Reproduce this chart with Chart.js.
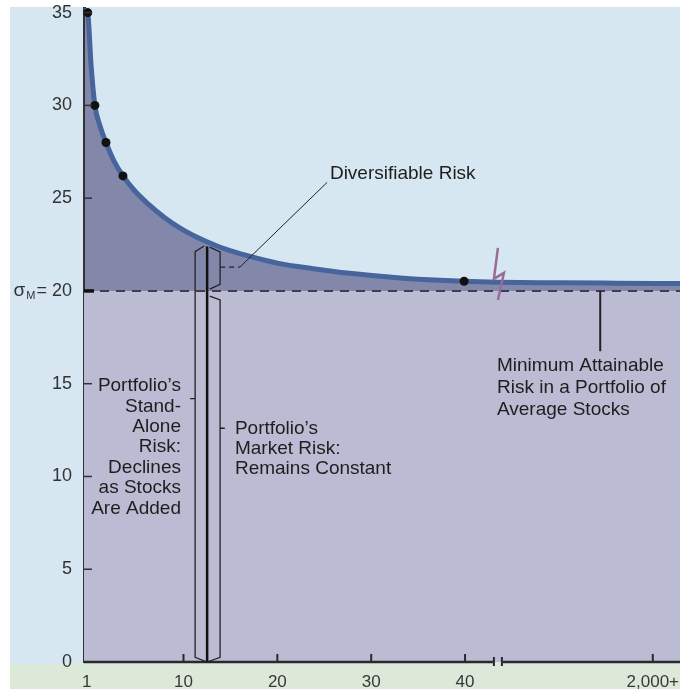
<!DOCTYPE html>
<html>
<head>
<meta charset="utf-8">
<script src="https://cdn.jsdelivr.net/npm/chart.js@4.4.1/dist/chart.umd.min.js"></script>
<style>
  html, body { margin: 0; padding: 0; background: #fff; }
  canvas { display: block; }
</style>
</head>
<body>
<canvas id="riskChart" width="680" height="689"></canvas>
<script>
// x values are positions on the broken stock-count axis (1..40, then 2,000+)
const curveX = [-0.5, -0.2, 0.15, 0.56, 1.1, 1.74, 2.6, 3.55, 4.8, 6.1, 8.0, 9.6, 11.0, 12.5, 14.5, 16.8, 20.0, 23.8, 27.7, 33.1, 39.9, 43.5, 50, 56, 62.9];
const curveY = [35.3, 35.0, 32.2, 30.0, 28.9, 28.0, 27.0, 26.2, 25.4, 24.75, 23.95, 23.4, 23.0, 22.65, 22.25, 21.9, 21.5, 21.2, 20.95, 20.7, 20.52, 20.47, 20.44, 20.42, 20.4];

// sample portfolios marked on the curve
const dotX = [-0.2, 0.56, 1.74, 3.55, 39.9];
const dotY = [35.0, 30.0, 28.0, 26.2, 20.52];

// market risk floor (sigma_M)
const marketRisk = 20;

const xTickPos = [-0.3, 10, 20, 30, 40, 60];
const xTickLabels = ['1', '10', '20', '30', '40', '2,000+'];
const yTickValues = [0, 5, 10, 15, 20, 25, 30, 35];
const axisBreak = 43.5;

const X_MIN = -0.6, X_MAX = 62.9;
const FONT = '"Liberation Sans", Arial, Helvetica, sans-serif';

Chart.defaults.font.family = FONT;

// Background: white margin, light blue panel, pale green strip under the axis
const backdrop = {
  id: 'backdrop',
  beforeDraw(chart) {
    const ctx = chart.ctx;
    ctx.save();
    ctx.fillStyle = '#ffffff';
    ctx.fillRect(0, 0, chart.width, chart.height);
    ctx.fillStyle = '#d6e7f1';
    ctx.fillRect(10, 7, chart.width - 10, chart.height - 7);
    ctx.fillStyle = '#dde9d8';
    ctx.fillRect(10, chart.chartArea.bottom + 2, chart.width - 10, chart.height);
    ctx.restore();
  }
};

// Axis ticks, axis break and all the annotation brackets/labels
const annotations = {
  id: 'annotations',
  afterDatasetsDraw(chart) {
    const ctx = chart.ctx;
    const xs = chart.scales.x, ys = chart.scales.y;
    const px = (v) => xs.getPixelForValue(v);
    const py = (v) => ys.getPixelForValue(v);
    const area = chart.chartArea;
    ctx.save();

    // inward y ticks
    ctx.strokeStyle = '#333';
    ctx.lineWidth = 1.5;
    yTickValues.forEach((v) => {
      if (v === 0 || v === marketRisk) return;
      ctx.beginPath();
      ctx.moveTo(area.left, py(v));
      ctx.lineTo(area.left + 8, py(v));
      ctx.stroke();
    });
    ctx.strokeStyle = '#111';
    ctx.lineWidth = 3.5;
    ctx.beginPath();
    ctx.moveTo(area.left, py(marketRisk));
    ctx.lineTo(area.left + 10, py(marketRisk));
    ctx.stroke();

    // x axis line with a break
    const bx = px(axisBreak);
    ctx.strokeStyle = '#2a2a2a';
    ctx.lineWidth = 2.5;
    ctx.beginPath();
    ctx.moveTo(area.left, area.bottom);
    ctx.lineTo(bx - 5, area.bottom);
    ctx.moveTo(bx + 5, area.bottom);
    ctx.lineTo(area.right, area.bottom);
    ctx.stroke();
    ctx.lineWidth = 2;
    ctx.beginPath();
    ctx.moveTo(bx - 4, area.bottom - 5);
    ctx.lineTo(bx - 4, area.bottom + 4);
    ctx.moveTo(bx + 4, area.bottom - 5);
    ctx.lineTo(bx + 4, area.bottom + 4);
    ctx.stroke();

    // inward x ticks
    ctx.lineWidth = 2;
    xTickPos.slice(1).forEach((v) => {
      ctx.beginPath();
      ctx.moveTo(px(v), area.bottom);
      ctx.lineTo(px(v), area.bottom - 8);
      ctx.stroke();
    });

    // break zigzag across the curve
    const y20 = py(marketRisk);
    ctx.strokeStyle = '#9a6b98';
    ctx.lineWidth = 2.5;
    ctx.beginPath();
    ctx.moveTo(bx, y20 - 43);
    ctx.lineTo(bx - 4, y20 - 12);
    ctx.lineTo(bx + 6, y20 - 18);
    ctx.lineTo(bx, y20 + 9);
    ctx.stroke();

    // sigma_M label next to the "= 20" tick
    ctx.fillStyle = '#333';
    ctx.font = '18px ' + FONT;
    const eqW = ctx.measureText('= 20').width;
    const labelRight = area.left - 12;
    ctx.textBaseline = 'middle';
    ctx.textAlign = 'right';
    ctx.font = '11px ' + FONT;
    ctx.fillText('M', labelRight - eqW - 1, y20 + 5);
    const mW = ctx.measureText('M').width;
    ctx.font = '19px ' + FONT;
    ctx.fillText('σ', labelRight - eqW - mW - 2, y20);

    // brackets
    ctx.strokeStyle = '#111';
    ctx.lineWidth = 2.5;
    ctx.beginPath();
    ctx.moveTo(px(12.52), py(22.4));
    ctx.lineTo(px(12.52), py(0));
    ctx.stroke();

    ctx.lineWidth = 1.3;
    ctx.strokeStyle = '#222';
    // left (stand-alone) bracket
    ctx.beginPath();
    ctx.moveTo(px(12.2), py(22.42));
    ctx.lineTo(px(11.24), py(22.12));
    ctx.lineTo(px(11.24), py(0.25));
    ctx.lineTo(px(12.52), py(0));
    ctx.moveTo(px(11.24), py(14.2));
    ctx.lineTo(px(10.7), py(14.2));
    ctx.stroke();
    // upper right brace (diversifiable)
    ctx.beginPath();
    ctx.moveTo(px(12.8), py(22.36));
    ctx.lineTo(px(13.9), py(22.1));
    ctx.lineTo(px(13.9), py(20.35));
    ctx.lineTo(px(12.8), py(20.1));
    ctx.stroke();
    ctx.setLineDash([5, 4]);
    ctx.beginPath();
    ctx.moveTo(px(13.9), py(21.28));
    ctx.lineTo(px(16.0), py(21.28));
    ctx.stroke();
    ctx.setLineDash([]);
    ctx.lineWidth = 1;
    ctx.beginPath();
    ctx.moveTo(px(16.0), py(21.28));
    ctx.lineTo(px(25.3), py(25.85));
    ctx.stroke();
    // lower right bracket (market risk)
    ctx.lineWidth = 1.3;
    ctx.beginPath();
    ctx.moveTo(px(12.8), py(19.72));
    ctx.lineTo(px(13.9), py(19.52));
    ctx.lineTo(px(13.9), py(0.25));
    ctx.lineTo(px(12.52), py(0));
    ctx.moveTo(px(13.9), py(12.6));
    ctx.lineTo(px(14.4), py(12.6));
    ctx.stroke();
    // leader to the minimum risk note
    ctx.lineWidth = 2;
    ctx.beginPath();
    ctx.moveTo(px(54.4), py(marketRisk));
    ctx.lineTo(px(54.4), py(16.75));
    ctx.stroke();

    // texts
    ctx.fillStyle = '#1e1e1e';
    ctx.font = '19px ' + FONT;
    ctx.textBaseline = 'middle';
    const lines = (arr, x, y, lh, align) => {
      ctx.textAlign = align;
      arr.forEach((t, i) => ctx.fillText(t, x, y + i * lh));
    };
    lines(['Diversifiable Risk'], px(25.6), py(26.33), 20, 'left');
    lines(['Portfolio’s', 'Stand-', 'Alone', 'Risk:', 'Declines', 'as Stocks', 'Are Added'],
      px(9.73), py(14.88), 20.4, 'right');
    lines(['Portfolio’s', 'Market Risk:', 'Remains Constant'], px(15.48), py(12.57), 20, 'left');
    lines(['Minimum Attainable', 'Risk in a Portfolio of', 'Average Stocks'], px(43.4), py(15.96), 22, 'left');

    ctx.restore();
  }
};

const curveData = curveX.map((x, i) => ({ x, y: curveY[i] }));
const dotData = dotX.map((x, i) => ({ x, y: dotY[i] }));
const floorData = [{ x: X_MIN, y: marketRisk }, { x: X_MAX, y: marketRisk }];

const ctx = document.getElementById('riskChart').getContext('2d');
new Chart(ctx, {
  type: 'line',
  data: {
    datasets: [
      {
        label: 'Portfolios',
        data: dotData,
        showLine: false,
        pointRadius: 4.5,
        pointBackgroundColor: '#111',
        pointBorderWidth: 0,
        clip: false,
      },
      {
        label: 'Market risk',
        data: floorData,
        borderColor: '#3e3e4c',
        borderWidth: 2,
        borderDash: [9, 7],
        pointRadius: 0,
        fill: 'origin',
        backgroundColor: '#bbbbd3',
      },
      {
        label: 'Portfolio risk',
        data: curveData,
        borderColor: '#47659c',
        borderWidth: 5,
        pointRadius: 0,
        cubicInterpolationMode: 'monotone',
        fill: { value: marketRisk },
        backgroundColor: '#8388ab',
      },
    ],
  },
  options: {
    responsive: false,
    devicePixelRatio: 1,
    animation: false,
    layout: { autoPadding: false, padding: { left: 10, top: 8, right: 0, bottom: 0 } },
    plugins: {
      legend: { display: false },
      tooltip: { enabled: false },
    },
    scales: {
      x: {
        type: 'linear',
        min: X_MIN,
        max: X_MAX,
        grid: { display: false, drawTicks: false },
        border: { display: false },
        afterBuildTicks: (scale) => {
          scale.ticks = xTickPos.map((v) => ({ value: v }));
        },
        afterFit: (scale) => {
          scale.height = 27;
          scale.paddingLeft = 0;
          scale.paddingRight = 0;
        },
        ticks: {
          autoSkip: false,
          maxRotation: 0,
          padding: 10,
          color: '#383838',
          font: { size: 17 },
          callback: (value, i) => xTickLabels[i],
        },
      },
      y: {
        min: 0,
        max: 35.25,
        grid: { display: false, drawTicks: false },
        border: { display: true, color: '#333', width: 3 },
        afterBuildTicks: (scale) => {
          scale.ticks = yTickValues.map((v) => ({ value: v }));
        },
        afterFit: (scale) => {
          scale.width = 74;
          scale.paddingTop = 0;
          scale.paddingBottom = 0;
        },
        ticks: {
          padding: 12,
          color: '#333',
          font: { size: 18 },
          callback: (value) => (value === marketRisk ? '= 20' : String(value)),
        },
      },
    },
  },
  plugins: [backdrop, annotations],
});
</script>
</body>
</html>
